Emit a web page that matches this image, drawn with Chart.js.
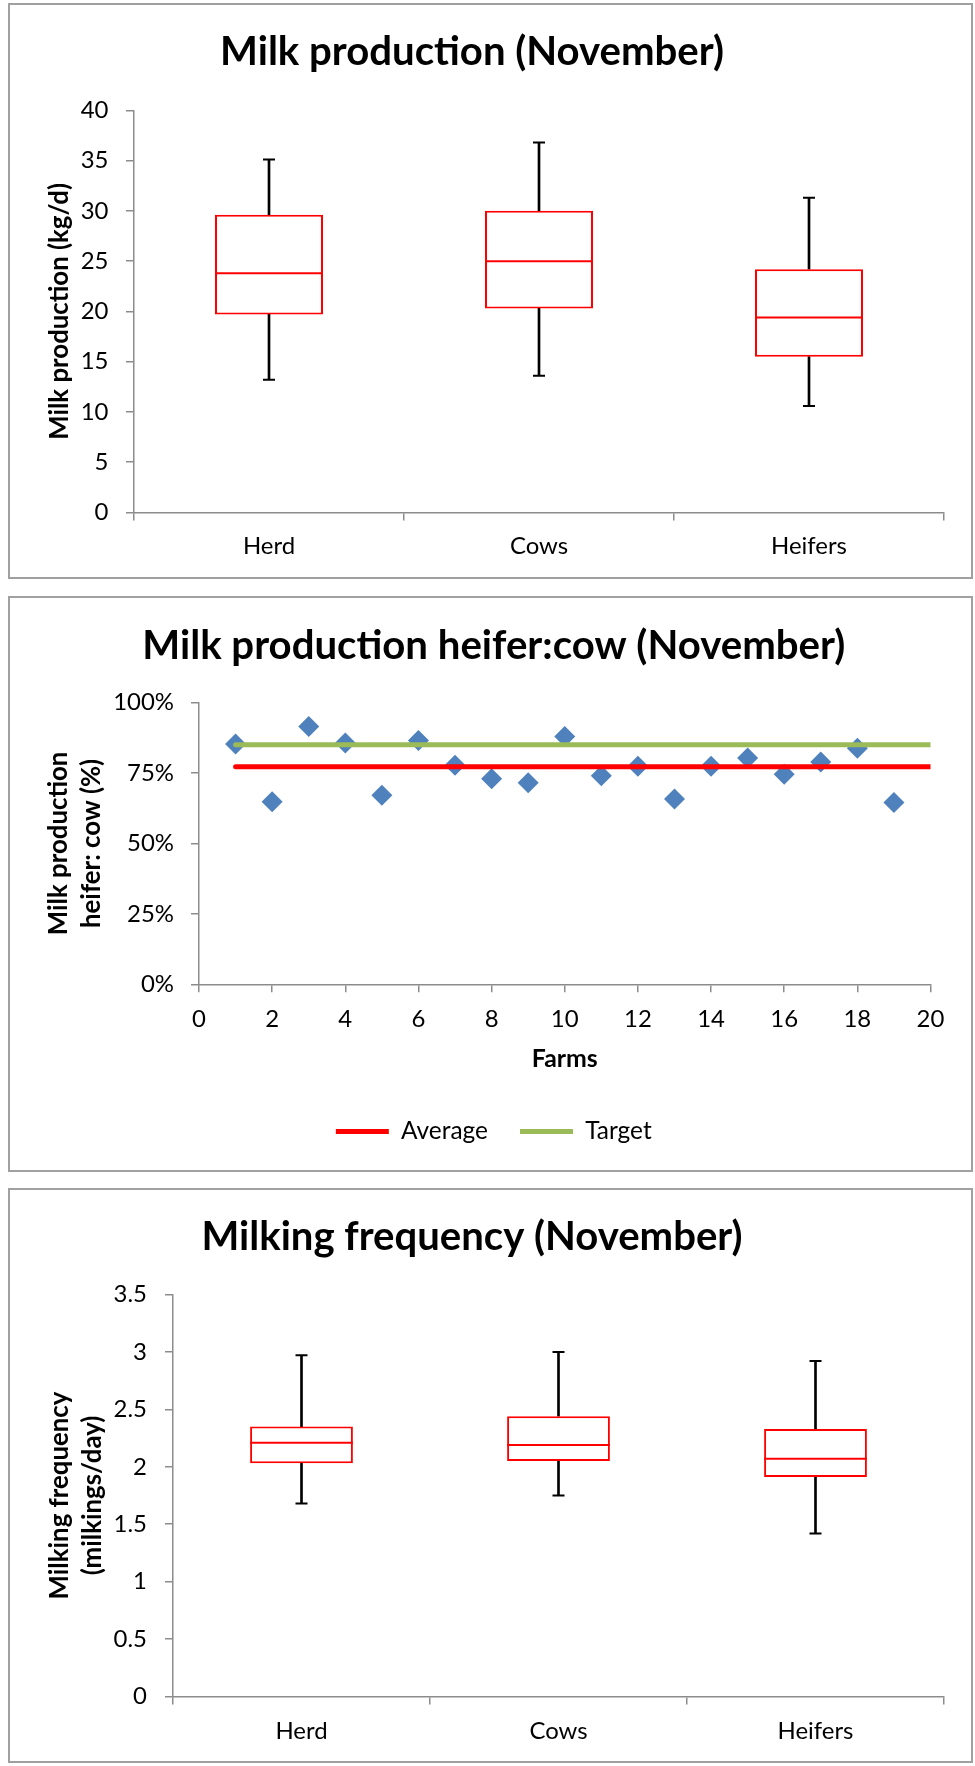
<!DOCTYPE html>
<html>
<head>
<meta charset="utf-8">
<script src="https://cdn.jsdelivr.net/npm/chart.js@4.4.1/dist/chart.umd.min.js"></script>
<style>
  html, body { margin: 0; padding: 0; background: #ffffff; }
  body { width: 975px; height: 1766px; position: relative; overflow: hidden; }
  .panel { position: absolute; left: 8px; width: 961px; border: 2px solid #a0a0a0; }
  canvas { position: absolute; left: 0; }
</style>
</head>
<body>
<div class="panel" style="top:3px;height:572px"></div>
<div class="panel" style="top:596px;height:572px"></div>
<div class="panel" style="top:1188px;height:571px"></div>
<canvas id="c1" width="975" height="574" style="top:4px"></canvas>
<canvas id="c2" width="975" height="575" style="top:597px"></canvas>
<canvas id="c3" width="975" height="574" style="top:1189px"></canvas>
<script>
// ---------------- DATA ----------------
const boxCategories = ['Herd', 'Cows', 'Heifers'];

// Milk production (kg/d), November
const milkMin    = [13.2, 13.6, 10.6];
const milkQ1     = [19.7, 20.3, 15.5];
const milkMedian = [23.8, 25.0, 19.4];
const milkQ3     = [29.6, 30.0, 24.2];
const milkMax    = [35.1, 36.8, 31.3];
const milkAxis   = { min: 0, max: 40, step: 5 };

// Milk production heifer:cow ratio per farm, November
const farmNumbers    = [1, 2, 3, 4, 5, 6, 7, 8, 9, 10, 11, 12, 13, 14, 15, 16, 17, 18, 19];
const heiferCowRatio = [0.853, 0.648, 0.915, 0.856, 0.671, 0.865, 0.777, 0.729, 0.715, 0.879,
                        0.740, 0.774, 0.658, 0.774, 0.803, 0.745, 0.789, 0.838, 0.645];
const refLineFarms   = [1, 20];
const averageRatio   = 0.772;
const targetRatio    = 0.85;
const ratioXAxis     = { min: 0, max: 20, step: 2 };
const ratioYAxis     = { min: 0, max: 1, step: 0.25 };

// Milking frequency (milkings/day), November
const freqMin    = [1.68, 1.75, 1.42];
const freqQ1     = [2.03, 2.05, 1.91];
const freqMedian = [2.21, 2.19, 2.07];
const freqQ3     = [2.35, 2.44, 2.33];
const freqMax    = [2.97, 3.00, 2.92];
const freqAxis   = { min: 0, max: 3.5, step: 0.5 };

// ---------------- STYLE HELPERS ----------------
const RED = '#FF0000';
const AXIS = '#8c8c8c';
const FONT = 'Lato';
const mctx = document.createElement('canvas').getContext('2d');
function fitSize(text, weight, target) {
  mctx.font = weight + ' 100px ' + FONT;
  return 100 * target / mctx.measureText(text).width;
}
const tickSize   = fitSize('Heifers', 'normal', 76);
const yTitleSize = fitSize('Milk production (kg/d)', 'bold', 257);
const yTitleLH   = 33;

Chart.defaults.font.family = FONT;
Chart.defaults.color = '#000';

function boxPlot(id, g, d) {
  const boxFrac = 0.4;
  const tSize = fitSize(g.title, 'bold', g.titleWidth);
  const tLH = tSize * 1.2;
  const H = document.getElementById(id).height;
  const medR = (ctx) => ctx.chart.scales.x.width / d.cats.length * boxFrac / 2;
  return new Chart(document.getElementById(id), {
    type: 'bar',
    data: {
      labels: d.cats,
      datasets: [
        { type: 'line', label: 'Median', data: d.med, showLine: false, pointStyle: 'line',
          pointRadius: medR, pointHoverRadius: medR, pointBorderColor: RED, pointBorderWidth: 2, borderColor: RED },
        { type: 'line', label: 'Max', data: d.max, showLine: false, pointStyle: 'line',
          pointRadius: 6, pointHoverRadius: 6, pointBorderColor: '#000', pointBorderWidth: 2, borderColor: '#000' },
        { type: 'line', label: 'Min', data: d.min, showLine: false, pointStyle: 'line',
          pointRadius: 6, pointHoverRadius: 6, pointBorderColor: '#000', pointBorderWidth: 2, borderColor: '#000' },
        { type: 'bar', label: 'Q1-Q3', data: d.cats.map((c, i) => [d.q1[i], d.q3[i]]),
          backgroundColor: '#ffffff', borderColor: RED, borderWidth: 2, borderSkipped: false,
          grouped: false, barPercentage: boxFrac, categoryPercentage: 1 },
        { type: 'bar', label: 'Lower whisker', data: d.cats.map((c, i) => [d.min[i], d.q1[i]]),
          backgroundColor: '#000', borderWidth: 0, barThickness: 2, grouped: false },
        { type: 'bar', label: 'Upper whisker', data: d.cats.map((c, i) => [d.q3[i], d.max[i]]),
          backgroundColor: '#000', borderWidth: 0, barThickness: 2, grouped: false }
      ]
    },
    options: {
      responsive: false, animation: false, events: [],
      layout: { padding: { left: 0, right: 975 - g.right, top: 0, bottom: 0 } },
      plugins: {
        legend: { display: false }, tooltip: { enabled: false },
        title: { display: true, text: g.title, color: '#000',
          font: { family: FONT, weight: 'bold', size: tSize, lineHeight: 1.2 },
          padding: { top: g.titleCenter - tLH / 2, bottom: g.chartTop - g.titleCenter - tLH / 2 } }
      },
      scales: {
        x: {
          offset: true,
          grid: { display: true, offset: true, drawOnChartArea: false, drawTicks: true, tickLength: 8,
                  tickColor: AXIS, color: AXIS, lineWidth: 1.5, tickWidth: 1.5 },
          border: { display: true, color: AXIS, width: 1.5 },
          ticks: { color: '#000', font: { family: FONT, size: tickSize },
                   padding: (g.labelCenter - g.chartBottom) - 8 - 0.6 * tickSize },
          afterFit: (s) => { s.height = H - g.chartBottom; }
        },
        y: {
          min: d.axis.min, max: d.axis.max,
          grid: { display: true, drawOnChartArea: false, drawTicks: true, tickLength: 8,
                  tickColor: AXIS, color: AXIS, lineWidth: 1.5, tickWidth: 1.5 },
          border: { display: true, color: AXIS, width: 1.5 },
          ticks: { stepSize: d.axis.step, color: '#000', font: { family: FONT, size: tickSize }, padding: g.yTickPad,
                   callback: (v) => String(Math.round(v * 100) / 100) },
          title: { display: true, text: g.yTitle, color: '#000',
                   font: { family: FONT, weight: 'bold', size: yTitleSize, lineHeight: yTitleLH / yTitleSize },
                   padding: { top: g.yTitleX - yTitleLH / 2, bottom: 0 } },
          afterFit: (s) => { s.width = g.left; }
        }
      }
    }
  });
}

boxPlot('c1',
  { title: 'Milk production (November)', titleWidth: 504, titleCenter: 48, chartTop: 106.3, chartBottom: 508.5,
    left: 134, right: 944, yTitle: 'Milk production (kg/d)', yTitleX: 60, yTickPad: 17.5, labelCenter: 542 },
  { cats: boxCategories, min: milkMin, q1: milkQ1, med: milkMedian, q3: milkQ3, max: milkMax, axis: milkAxis });

boxPlot('c3',
  { title: 'Milking frequency (November)', titleWidth: 541, titleCenter: 48, chartTop: 105.5, chartBottom: 507.5,
    left: 173, right: 944, yTitle: ['Milking frequency', '(milkings/day)'], yTitleX: 60, yTickPad: 18, labelCenter: 542 },
  { cats: boxCategories, min: freqMin, q1: freqQ1, med: freqMedian, q3: freqQ3, max: freqMax, axis: freqAxis });

// ---------------- SCATTER CHART ----------------
(function () {
  const g = { title: 'Milk production heifer:cow (November)', titleWidth: 703, titleCenter: 49,
              chartTop: 105.5, chartBottom: 387.3, padLeft: 57, left: 199, right: 930.5,
              yTitleX: 59, yTickPad: 17, labelCenter: 422, farmsCenter: 462, legendCenter: 534.5 };
  const H = 575;
  const tSize = fitSize(g.title, 'bold', g.titleWidth);
  const tLH = tSize * 1.2;
  const legSize = fitSize('Average', 'normal', 87);
  const legPad = 32;
  const padBottom = H - g.legendCenter - 10 - legSize / 2;
  const legendTop = H - padBottom - (legSize + legPad + 10);
  const farmsSize = fitSize('Farms', 'bold', 66);
  const farmsLH = farmsSize * 1.2;

  new Chart(document.getElementById('c2'), {
    type: 'scatter',
    data: {
      datasets: [
        { label: 'Average', type: 'line', data: refLineFarms.map(x => ({ x: x, y: averageRatio })),
          showLine: true, borderColor: RED, backgroundColor: RED, borderWidth: 5, borderCapStyle: 'round',
          pointRadius: 0, pointHoverRadius: 0, pointBorderWidth: 5, pointBorderColor: RED, pointBackgroundColor: RED },
        { label: 'Target', type: 'line', data: refLineFarms.map(x => ({ x: x, y: targetRatio })),
          showLine: true, borderColor: '#9BBB59', backgroundColor: '#9BBB59', borderWidth: 5, borderCapStyle: 'round',
          pointRadius: 0, pointHoverRadius: 0, pointBorderWidth: 5, pointBorderColor: '#9BBB59', pointBackgroundColor: '#9BBB59' },
        { label: 'Farms', data: farmNumbers.map((x, i) => ({ x: x, y: heiferCowRatio[i] })),
          pointStyle: 'rectRot', pointRadius: 10.5, pointHoverRadius: 10.5,
          backgroundColor: '#4F81BD', borderColor: '#4F81BD', borderWidth: 0 }
      ]
    },
    options: {
      responsive: false, animation: false, events: [],
      layout: { padding: { left: g.padLeft, right: 975 - g.right, top: 0, bottom: padBottom } },
      plugins: {
        tooltip: { enabled: false },
        title: { display: true, text: g.title, color: '#000',
          font: { family: FONT, weight: 'bold', size: tSize, lineHeight: 1.2 },
          padding: { top: g.titleCenter - tLH / 2, bottom: g.chartTop - g.titleCenter - tLH / 2 } },
        legend: {
          display: true, position: 'bottom',
          labels: { usePointStyle: true, pointStyle: 'line', pointStyleWidth: 53, padding: legPad,
                    color: '#000', font: { family: FONT, size: legSize },
                    filter: (item) => item.datasetIndex < 2 }
        }
      },
      scales: {
        x: {
          type: 'linear', min: ratioXAxis.min, max: ratioXAxis.max,
          grid: { display: true, drawOnChartArea: false, drawTicks: true, tickLength: 8,
                  tickColor: AXIS, color: AXIS, lineWidth: 1.5, tickWidth: 1.5 },
          border: { display: true, color: AXIS, width: 1.5 },
          ticks: { stepSize: ratioXAxis.step, color: '#000', font: { family: FONT, size: tickSize },
                   padding: (g.labelCenter - g.chartBottom) - 8 - 0.6 * tickSize },
          title: { display: true, text: 'Farms', color: '#000',
                   font: { family: FONT, weight: 'bold', size: farmsSize, lineHeight: 1.2 },
                   padding: { top: 0, bottom: legendTop - g.farmsCenter - farmsLH / 2 } },
          afterFit: (s) => { s.height = legendTop - g.chartBottom; }
        },
        y: {
          min: ratioYAxis.min, max: ratioYAxis.max,
          grid: { display: true, drawOnChartArea: false, drawTicks: true, tickLength: 8,
                  tickColor: AXIS, color: AXIS, lineWidth: 1.5, tickWidth: 1.5 },
          border: { display: true, color: AXIS, width: 1.5 },
          ticks: { stepSize: ratioYAxis.step, color: '#000', font: { family: FONT, size: tickSize },
                   padding: g.yTickPad, callback: (v) => Math.round(v * 100) + '%' },
          title: { display: true, text: ['Milk production', 'heifer: cow (%)'], color: '#000',
                   font: { family: FONT, weight: 'bold', size: yTitleSize, lineHeight: yTitleLH / yTitleSize },
                   padding: { top: (g.yTitleX - g.padLeft) - yTitleLH / 2, bottom: 0 } },
          afterFit: (s) => { s.width = g.left - g.padLeft; }
        }
      }
    }
  });
})();
</script>
</body>
</html>
